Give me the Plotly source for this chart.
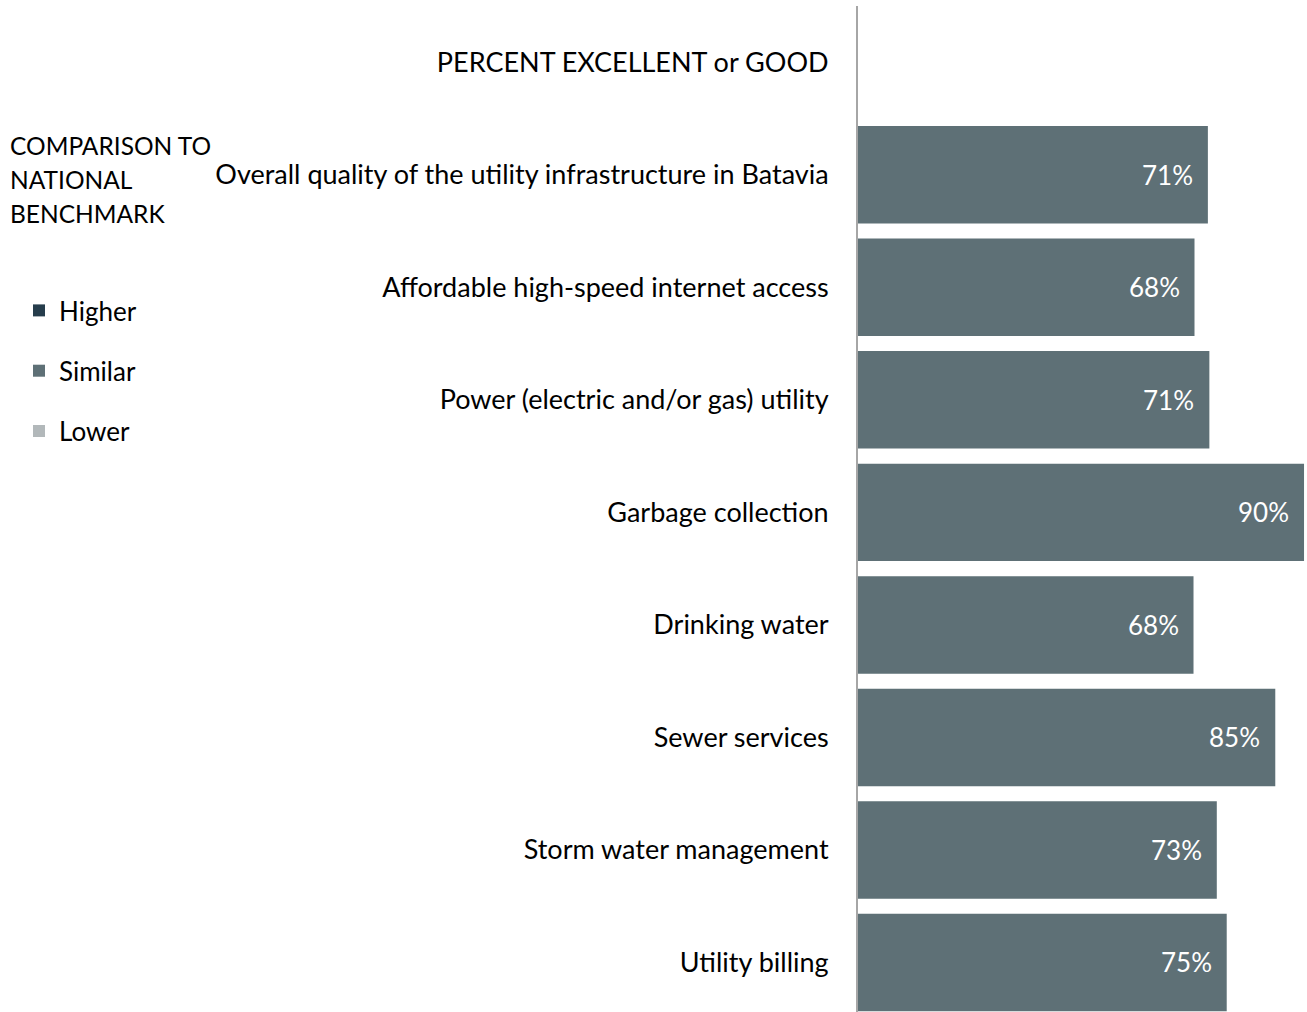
import plotly.graph_objects as go

# ---- data ----
categories = [
    "PERCENT EXCELLENT or GOOD",
    "Overall quality of the utility infrastructure in Batavia",
    "Affordable high-speed internet access",
    "Power (electric and/or gas) utility",
    "Garbage collection",
    "Drinking water",
    "Sewer services",
    "Storm water management",
    "Utility billing",
]
values = [None, 70.6, 67.9, 70.9, 90.0, 67.7, 84.2, 72.4, 74.4]
labels = ["", "71%", "68%", "71%", "90%", "68%", "85%", "73%", "75%"]
legend_names = ["Higher", "Similar", "Lower"]
legend_colors = ["#263d4c", "#5e7076", "#b2b8ba"]
legend_title_lines = ["COMPARISON TO", "NATIONAL", "BENCHMARK"]

# ---- layout constants ----
W, H = 1307, 1012
ML, MR, MT, MB = 858, 0, 6, 0
PW, PH = W - ML - MR, H - MT - MB
FONT = "Lato, Carlito, Calibri, sans-serif"
FS = 26
FS_TICK = 27
FS_HEAD = 24.5

fig = go.Figure()
for name, color in zip(legend_names, legend_colors):
    if name == "Similar":
        fig.add_trace(go.Bar(
            x=values, y=categories, orientation="h", name=name,
            marker=dict(color=color, line=dict(width=0)),
            legendgroup=name, hoverinfo="skip",
        ))
    else:
        fig.add_trace(go.Bar(
            x=[None], y=[None], orientation="h", name=name,
            marker=dict(color=color, line=dict(width=0)),
            legendgroup=name,
        ))

annotations = []
for c, v, lab in zip(categories, values, labels):
    if v is None:
        continue
    annotations.append(dict(
        x=v, y=c, xref="x", yref="y", text=lab, showarrow=False,
        xanchor="right", yanchor="middle", xshift=-13,
        font=dict(family=FONT, size=FS, color="#ffffff"),
    ))

def px_to_paper_x(px):
    return (px - ML) / PW

def px_to_paper_y(py):
    return (H - MB - py) / PH

for i, line in enumerate(legend_title_lines):
    annotations.append(dict(
        x=px_to_paper_x(8), y=px_to_paper_y(145 + 34 * i), xref="paper", yref="paper",
        text=line, showarrow=False, xanchor="left", yanchor="middle",
        align="left", font=dict(family=FONT, size=FS_HEAD, color="#000000"),
    ))

fig.update_layout(
    width=W, height=H,
    margin=dict(l=ML, r=MR, t=MT, b=MB, autoexpand=False),
    paper_bgcolor="white", plot_bgcolor="white",
    barmode="overlay", bargap=0.134,
    font=dict(family=FONT, size=FS, color="#000000"),
    xaxis=dict(range=[0, 90.6], visible=False, fixedrange=True),
    yaxis=dict(
        type="category", categoryorder="array", categoryarray=categories,
        range=[8.44, -0.5], showline=True, linecolor="#a6a6a6", linewidth=2,
        ticks="", ticklabelstandoff=22, showgrid=False, zeroline=False,
        automargin=False, fixedrange=True,
        tickfont=dict(family=FONT, size=FS_TICK, color="#000000"),
    ),
    showlegend=True,
    legend=dict(
        xref="container", yref="container",
        x=19 / W, y=1 - 287 / H, xanchor="left", yanchor="top",
        font=dict(family=FONT, size=FS, color="#000000"),
        tracegroupgap=23.5, itemwidth=30, bgcolor="rgba(0,0,0,0)",
        traceorder="grouped",
    ),
    annotations=annotations,
)

fig.write_html("out.html", config={"displayModeBar": False},
               post_script="document.body.style.margin='0';")
